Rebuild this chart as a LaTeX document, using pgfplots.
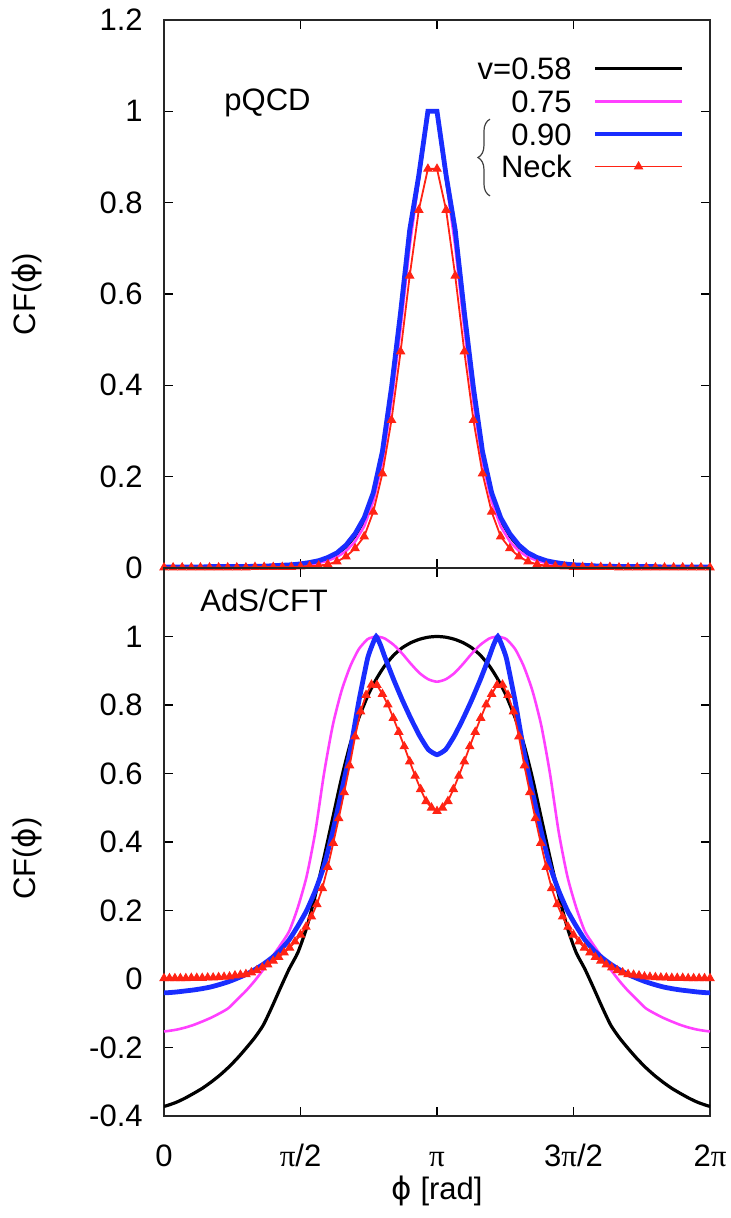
\documentclass[border=0pt]{standalone}
\usepackage{fontspec}
\setmainfont{Liberation Sans}
\newfontfamily\dejavu{DejaVu Sans}
\newfontfamily\symb{Liberation Serif}
\usepackage{pgfplots}
\pgfplotsset{compat=1.18}
\usepackage{pgfplotstable}
\usetikzlibrary{decorations.pathreplacing}
\definecolor{cmag}{RGB}{255,64,255}
\definecolor{cblue}{RGB}{25,45,255}
\definecolor{cred}{RGB}{255,35,20}
\newcommand{\ph}{{\dejavu ϕ}}
\newcommand{\pii}{{\symb π}}

\pgfplotstableread{
x k m g f
0.0000 0.002 0.002 0.002 0.001
0.1047 0.002 0.002 0.002 0.001
0.2094 0.002 0.002 0.002 0.001
0.3142 0.002 0.002 0.002 0.001
0.4189 0.002 0.002 0.002 0.001
0.5236 0.003 0.002 0.003 0.001
0.6283 0.003 0.002 0.003 0.001
0.7330 0.003 0.002 0.003 0.001
0.8378 0.003 0.002 0.003 0.001
0.9425 0.003 0.003 0.003 0.001
1.0472 0.003 0.003 0.004 0.002
1.1519 0.004 0.003 0.004 0.002
1.2566 0.004 0.004 0.005 0.002
1.3614 0.005 0.004 0.006 0.002
1.4661 0.006 0.005 0.007 0.002
1.5708 0.008 0.006 0.009 0.003
1.6755 0.011 0.008 0.012 0.004
1.7802 0.015 0.011 0.016 0.005
1.8850 0.021 0.016 0.023 0.008
1.9897 0.031 0.024 0.033 0.014
2.0944 0.046 0.037 0.050 0.025
2.1991 0.070 0.058 0.075 0.043
2.3038 0.104 0.091 0.110 0.069
2.4086 0.158 0.146 0.165 0.123
2.5133 0.248 0.232 0.255 0.207
2.6180 0.385 0.365 0.395 0.324
2.7227 0.550 0.525 0.560 0.474
2.8274 0.725 0.705 0.740 0.640
2.9322 0.855 0.850 0.860 0.784
3.0369 1.000 1.000 1.000 0.874
3.1416 1.000 1.000 1.000 0.874
3.2463 0.855 0.850 0.860 0.784
3.3510 0.725 0.705 0.740 0.640
3.4558 0.550 0.525 0.560 0.474
3.5605 0.385 0.365 0.395 0.324
3.6652 0.248 0.232 0.255 0.207
3.7699 0.158 0.146 0.165 0.123
3.8746 0.104 0.091 0.110 0.069
3.9794 0.070 0.058 0.075 0.043
4.0841 0.046 0.037 0.050 0.025
4.1888 0.031 0.024 0.033 0.014
4.2935 0.021 0.016 0.023 0.008
4.3982 0.015 0.011 0.016 0.005
4.5029 0.011 0.008 0.012 0.004
4.6077 0.008 0.006 0.009 0.003
4.7124 0.006 0.005 0.007 0.002
4.8171 0.005 0.004 0.006 0.002
4.9218 0.004 0.004 0.005 0.002
5.0265 0.004 0.003 0.004 0.002
5.1313 0.003 0.003 0.004 0.002
5.2360 0.003 0.003 0.003 0.001
5.3407 0.003 0.002 0.003 0.001
5.4454 0.003 0.002 0.003 0.001
5.5501 0.003 0.002 0.003 0.001
5.6549 0.003 0.002 0.003 0.001
5.7596 0.002 0.002 0.002 0.001
5.8643 0.002 0.002 0.002 0.001
5.9690 0.002 0.002 0.002 0.001
6.0737 0.002 0.002 0.002 0.001
6.1785 0.002 0.002 0.002 0.001
6.2832 0.002 0.002 0.002 0.001
}\toptab

\pgfplotstableread{
x B M L
0.0000 -0.372 -0.153 -0.040
0.0416 -0.369 -0.152 -0.040
0.1416 -0.360 -0.148 -0.038
0.2416 -0.348 -0.142 -0.035
0.3416 -0.334 -0.134 -0.032
0.4416 -0.319 -0.124 -0.028
0.5416 -0.301 -0.113 -0.023
0.6416 -0.281 -0.100 -0.016
0.7416 -0.258 -0.085 -0.008
0.8416 -0.232 -0.060 0.002
0.9416 -0.203 -0.035 0.013
1.0416 -0.172 -0.006 0.027
1.1416 -0.135 0.027 0.043
1.2416 -0.082 0.063 0.062
1.3416 -0.025 0.100 0.085
1.4416 0.030 0.140 0.115
1.5416 0.078 0.210 0.155
1.6416 0.150 0.300 0.200
1.7416 0.245 0.430 0.258
1.8416 0.355 0.600 0.330
1.9416 0.470 0.740 0.430
2.0416 0.585 0.840 0.545
2.1416 0.685 0.912 0.665
2.2416 0.762 0.963 0.810
2.3416 0.825 0.992 0.935
2.3916 0.851 0.997 0.972
2.4416 0.875 1.000 1.000
2.4916 0.896 0.998 0.975
2.5416 0.915 0.994 0.940
2.6416 0.945 0.976 0.875
2.7416 0.967 0.950 0.815
2.8416 0.982 0.920 0.760
2.9416 0.992 0.893 0.710
3.0416 0.998 0.875 0.670
3.1416 1.000 0.868 0.655
3.2416 0.998 0.875 0.670
3.3416 0.992 0.893 0.710
3.4416 0.982 0.920 0.760
3.5416 0.967 0.950 0.815
3.6416 0.945 0.976 0.875
3.7416 0.915 0.994 0.940
3.7916 0.896 0.998 0.975
3.8416 0.875 1.000 1.000
3.8916 0.851 0.997 0.972
3.9416 0.825 0.992 0.935
4.0416 0.762 0.963 0.810
4.1416 0.685 0.912 0.665
4.2416 0.585 0.840 0.545
4.3416 0.470 0.740 0.430
4.4416 0.355 0.600 0.330
4.5416 0.245 0.430 0.258
4.6416 0.150 0.300 0.200
4.7416 0.078 0.210 0.155
4.8416 0.030 0.140 0.115
4.9416 -0.025 0.100 0.085
5.0416 -0.082 0.063 0.062
5.1416 -0.135 0.027 0.043
5.2416 -0.172 -0.006 0.027
5.3416 -0.203 -0.035 0.013
5.4416 -0.232 -0.060 0.002
5.5416 -0.258 -0.085 -0.008
5.6416 -0.281 -0.100 -0.016
5.7416 -0.301 -0.113 -0.023
5.8416 -0.319 -0.124 -0.028
5.9416 -0.334 -0.134 -0.032
6.0416 -0.348 -0.142 -0.035
6.1416 -0.360 -0.148 -0.038
6.2416 -0.369 -0.152 -0.040
6.2832 -0.372 -0.153 -0.040
}\bottab

\pgfplotstableread{
x r
0.0000 0.002
0.0628 0.002
0.1257 0.002
0.1885 0.002
0.2513 0.002
0.3142 0.003
0.3770 0.003
0.4398 0.003
0.5027 0.004
0.5655 0.004
0.6283 0.005
0.6912 0.006
0.7540 0.007
0.8168 0.010
0.8796 0.012
0.9425 0.014
1.0053 0.019
1.0681 0.025
1.1310 0.033
1.1938 0.042
1.2566 0.053
1.3195 0.064
1.3823 0.077
1.4451 0.091
1.5080 0.109
1.5708 0.129
1.6336 0.152
1.6965 0.182
1.7593 0.218
1.8221 0.265
1.8850 0.327
1.9478 0.397
2.0106 0.469
2.0735 0.545
2.1363 0.623
2.1991 0.708
2.2619 0.781
2.3248 0.829
2.3876 0.859
2.4504 0.858
2.5133 0.832
2.5761 0.801
2.6389 0.762
2.7018 0.721
2.7646 0.679
2.8274 0.635
2.8903 0.593
2.9531 0.554
3.0159 0.519
3.0788 0.500
3.1416 0.490
3.2044 0.500
3.2673 0.519
3.3301 0.554
3.3929 0.593
3.4558 0.635
3.5186 0.679
3.5814 0.721
3.6442 0.762
3.7071 0.801
3.7699 0.832
3.8327 0.858
3.8956 0.859
3.9584 0.829
4.0212 0.781
4.0841 0.708
4.1469 0.623
4.2097 0.545
4.2726 0.469
4.3354 0.397
4.3982 0.327
4.4611 0.265
4.5239 0.218
4.5867 0.182
4.6496 0.152
4.7124 0.129
4.7752 0.109
4.8381 0.091
4.9009 0.077
4.9637 0.064
5.0265 0.053
5.0894 0.042
5.1522 0.033
5.2150 0.025
5.2779 0.019
5.3407 0.014
5.4035 0.012
5.4664 0.010
5.5292 0.007
5.5920 0.006
5.6549 0.005
5.7177 0.004
5.7805 0.004
5.8434 0.003
5.9062 0.003
5.9690 0.003
6.0319 0.002
6.0947 0.002
6.1575 0.002
6.2204 0.002
6.2832 0.002
}\redtab

\pgfplotsset{
  panel/.style={
    scale only axis, width=273pt, height=274pt,
    xmin=0, xmax=6.2832,
    tick align=inside, major tick length=4.5pt,
    tick style={black, line width=0.8pt},
    axis line style={black!85, line width=0.9pt},
    xtick={0,1.5708,3.1416,4.7124,6.2832},
    yticklabel style={xshift=-5.3pt},
    xticklabel style={anchor=base, yshift=-25pt},
  },
  sblack/.style={black, line width=1.6pt},
  smag/.style={cmag, line width=1.3pt},
  sblue/.style={cblue, line width=2.4pt},
  sred/.style={cred, line width=0.9pt, mark=triangle*, mark size=2.3pt, mark options={fill=cred, solid, line width=0.5pt}},
}

\begin{document}
\fontsize{15.5pt}{18pt}\selectfont
\begin{tikzpicture}
\useasboundingbox (-82pt,-325pt) rectangle (283pt,284pt);
\begin{axis}[panel, at={(0,0)}, anchor=south west,
  ymin=0, ymax=1.2,
  ytick={0,0.2,0.4,0.6,0.8,1,1.2},
  yticklabels={0,0.2,0.4,0.6,0.8,1,1.2},
  xticklabels={},
  ylabel={CF(\ph)},
  ylabel style={at={(axis description cs:-0.251,0.5)}, anchor=center},
  legend image code/.code={\draw[mark repeat=2,mark phase=2,#1] plot coordinates {(0pt,0pt) (21.75pt,0pt) (43.5pt,0pt)};},
  legend plot pos=right,
  legend cell align=right,
  legend style={at={(rel axis cs:0.954,0.932)}, anchor=north east, draw=none, fill=none, inner sep=0pt,
    column sep=10.5pt, row sep=5.2pt, nodes={inner sep=0pt, text height=11.1pt, text depth=0pt}},
]
\addplot[sblack] table[x=x,y=k] {\toptab};
\addlegendentry{v=0.58}
\addplot[smag] table[x=x,y=m] {\toptab};
\addlegendentry{0.75}
\addplot[sblue] table[x=x,y=g] {\toptab};
\addlegendentry{0.90}
\addplot[sred] table[x=x,y=f] {\toptab};
\addlegendentry{Neck}
\node[anchor=base west, inner sep=0pt] at (rel axis cs:0.11,0.834) {pQCD};
\draw[decorate, decoration={brace, amplitude=6pt}, line width=0.6pt, black!75] (rel axis cs:0.597,0.679) -- (rel axis cs:0.597,0.819);
\end{axis}
\begin{axis}[panel, at={(0,0)}, anchor=north west,
  ymin=-0.4, ymax=1.2,
  ytick={-0.4,-0.2,0,0.2,0.4,0.6,0.8,1},
  yticklabels={-0.4,-0.2,0,0.2,0.4,0.6,0.8,1},
  xticklabels={0,\pii/2,\pii,3\pii/2,2\pii},
  ylabel={CF(\ph)},
  ylabel style={at={(axis description cs:-0.251,0.47)}, anchor=center},
  xlabel={\ph\ [rad]},
  xlabel style={at={(axis description cs:0.5,0)}, anchor=base, yshift=-41.5pt},
]
\addplot[sblack, smooth, tension=0.4] table[x=x,y=B] {\bottab};
\addplot[smag, smooth, tension=0.4] table[x=x,y=M] {\bottab};
\addplot[sblue, smooth, tension=0.3] table[x=x,y=L] {\bottab};
\addplot[sred] table[x=x,y=r] {\redtab};
\node[anchor=base west, inner sep=0pt] at (rel axis cs:0.066,0.92) {AdS/CFT};
\end{axis}
\end{tikzpicture}
\end{document}
